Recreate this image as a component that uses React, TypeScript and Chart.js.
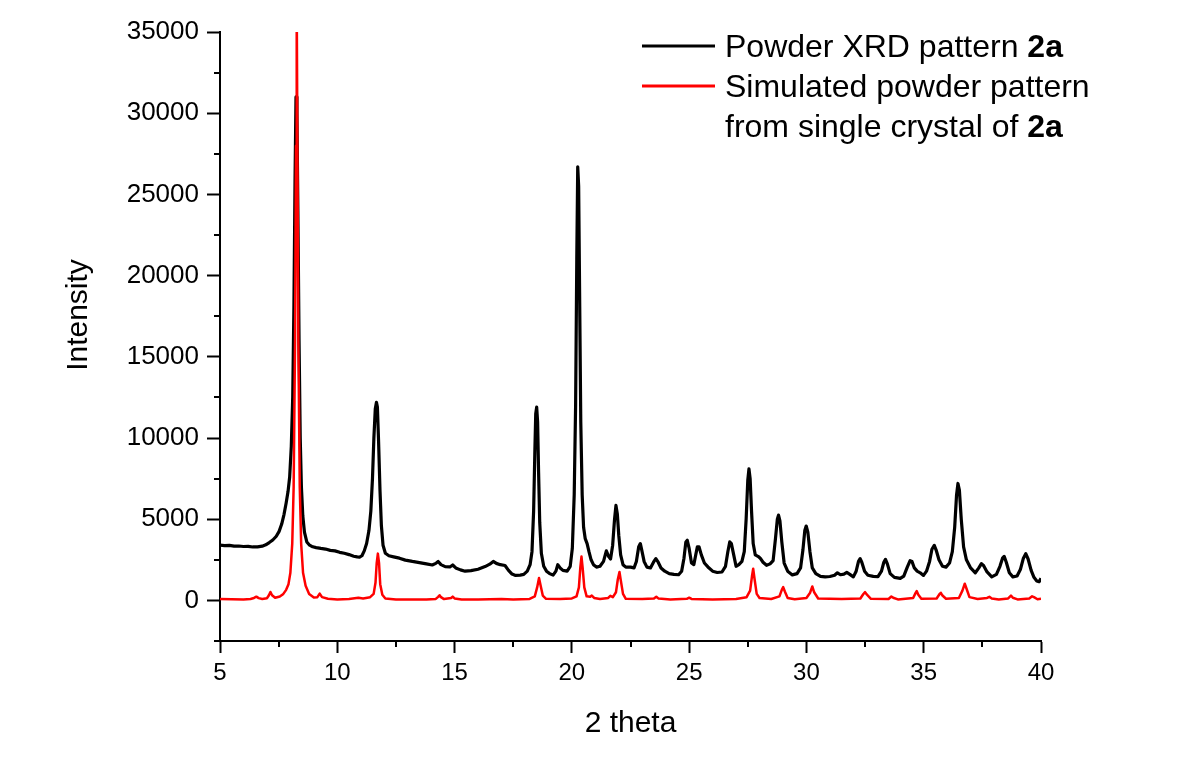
import React, { useEffect, useRef } from "react";
import { Chart, registerables } from "chart.js";

Chart.register(...registerables);

const FONT = '"Liberation Sans", Arial, Helvetica, sans-serif';

// Measured powder XRD pattern of 2a: [2θ (deg), intensity (counts)]
const powderPattern: [number, number][] = [
  [5.0, 3400], [5.2, 3370], [5.4, 3390], [5.6, 3340], [5.8, 3350], [6.0, 3320], [6.2, 3330], [6.4, 3290],
  [6.6, 3300], [6.8, 3340], [6.95, 3420], [7.1, 3560], [7.25, 3720], [7.4, 3950], [7.52, 4250], [7.63, 4700],
  [7.73, 5300], [7.82, 6000], [7.9, 6700], [7.97, 7600], [8.04, 9500], [8.1, 12500], [8.15, 18000],
  [8.2, 26000], [8.24, 31000], [8.28, 30000], [8.32, 24000], [8.37, 16000], [8.42, 10000], [8.47, 7000],
  [8.53, 5200], [8.6, 4200], [8.7, 3600], [8.82, 3400], [8.95, 3300], [9.1, 3250], [9.3, 3200], [9.5, 3160],
  [9.7, 3080], [9.9, 3050], [10.1, 2960], [10.3, 2900], [10.5, 2820], [10.7, 2720], [10.85, 2680],
  [10.95, 2660], [11.05, 2750], [11.15, 3050], [11.25, 3500], [11.35, 4300], [11.43, 5500], [11.5, 7500],
  [11.56, 10000], [11.62, 11800], [11.67, 12200], [11.71, 11900], [11.76, 9800], [11.82, 6800], [11.88, 4600],
  [11.95, 3400], [12.05, 2900], [12.2, 2750], [12.4, 2680], [12.65, 2600], [12.9, 2480], [13.2, 2400],
  [13.5, 2330], [13.8, 2250], [14.05, 2180], [14.2, 2280], [14.3, 2400], [14.42, 2200], [14.6, 2080],
  [14.8, 2060], [14.92, 2180], [15.05, 2000], [15.25, 1880], [15.45, 1800], [15.7, 1830], [16.0, 1920],
  [16.3, 2080], [16.5, 2230], [16.65, 2400], [16.78, 2280], [16.95, 2200], [17.15, 2150], [17.3, 1850],
  [17.45, 1620], [17.6, 1540], [17.8, 1560], [17.95, 1600], [18.1, 1800], [18.22, 2200], [18.3, 3000],
  [18.37, 5500], [18.42, 9000], [18.46, 11500], [18.5, 11900], [18.54, 11000], [18.58, 8000], [18.63, 4800],
  [18.7, 2900], [18.8, 2100], [18.92, 1800], [19.05, 1650], [19.2, 1560], [19.32, 1800], [19.4, 2200],
  [19.5, 2000], [19.62, 1850], [19.8, 1800], [19.93, 2100], [20.02, 3200], [20.1, 6500], [20.16, 12000],
  [20.21, 21000], [20.25, 26700], [20.29, 25500], [20.33, 19000], [20.38, 11000], [20.44, 6500], [20.5, 4500],
  [20.57, 3800], [20.65, 3500], [20.73, 3000], [20.82, 2500], [20.92, 2200], [21.05, 2050], [21.2, 2100],
  [21.35, 2400], [21.47, 3050], [21.57, 2700], [21.65, 2550], [21.74, 3400], [21.82, 5000], [21.88, 5850],
  [21.94, 5300], [22.0, 4000], [22.08, 2800], [22.18, 2200], [22.3, 2050], [22.5, 2050], [22.65, 2000],
  [22.75, 2400], [22.85, 3300], [22.92, 3500], [22.98, 3100], [23.08, 2400], [23.2, 2050], [23.35, 2000],
  [23.48, 2350], [23.58, 2570], [23.68, 2350], [23.8, 2000], [23.96, 1800], [24.15, 1650], [24.35, 1600],
  [24.55, 1580], [24.68, 1800], [24.78, 2600], [24.86, 3600], [24.92, 3700], [25.0, 3200], [25.1, 2300],
  [25.2, 2200], [25.28, 2800], [25.35, 3300], [25.42, 3300], [25.52, 2800], [25.65, 2300], [25.8, 2060],
  [26.0, 1800], [26.2, 1720], [26.4, 1750], [26.55, 2100], [26.65, 3000], [26.73, 3600], [26.8, 3500],
  [26.9, 2800], [27.0, 2100], [27.12, 2200], [27.25, 2400], [27.35, 3000], [27.43, 5000], [27.5, 7400],
  [27.55, 8100], [27.6, 7500], [27.66, 5500], [27.73, 3500], [27.82, 2800], [27.95, 2700], [28.03, 2600],
  [28.15, 2350], [28.3, 2160], [28.45, 2250], [28.58, 2450], [28.68, 3800], [28.76, 5000], [28.81, 5250],
  [28.87, 4900], [28.95, 3600], [29.05, 2300], [29.2, 1800], [29.4, 1570], [29.6, 1650], [29.75, 2000],
  [29.85, 3100], [29.93, 4300], [29.99, 4580], [30.06, 4200], [30.15, 3000], [30.25, 2000], [30.4, 1650],
  [30.6, 1480], [30.8, 1450], [31.0, 1470], [31.2, 1550], [31.32, 1700], [31.45, 1580], [31.6, 1620],
  [31.72, 1720], [31.85, 1600], [32.0, 1450], [32.12, 1800], [32.22, 2400], [32.29, 2570], [32.36, 2350],
  [32.48, 1800], [32.62, 1550], [32.85, 1480], [33.05, 1460], [33.2, 1800], [33.3, 2350], [33.37, 2530],
  [33.45, 2250], [33.57, 1650], [33.75, 1420], [34.0, 1360], [34.15, 1500], [34.3, 2050], [34.42, 2450],
  [34.5, 2400], [34.6, 2000], [34.72, 1800], [34.85, 1700], [34.99, 1540], [35.12, 1800], [35.25, 2400],
  [35.35, 3150], [35.45, 3390], [35.53, 3100], [35.65, 2500], [35.8, 2100], [35.95, 2050], [36.1, 2300],
  [36.22, 3000], [36.32, 4500], [36.4, 6500], [36.46, 7200], [36.52, 6800], [36.6, 5000], [36.7, 3300],
  [36.82, 2500], [37.0, 2000], [37.2, 1700], [37.35, 2000], [37.46, 2260], [37.55, 2150], [37.7, 1750],
  [37.9, 1450], [38.1, 1600], [38.25, 2100], [38.36, 2600], [38.43, 2710], [38.52, 2350], [38.65, 1700],
  [38.8, 1450], [38.98, 1500], [39.12, 1900], [39.25, 2600], [39.35, 2880], [39.45, 2550], [39.58, 1850],
  [39.7, 1420], [39.82, 1200], [39.92, 1150], [40.0, 1360],
];

// Pattern simulated from the single-crystal structure of 2a: [2θ (deg), intensity]
const simulatedPattern: [number, number][] = [
  [5.0, 80], [5.5, 70], [6.0, 60], [6.3, 90], [6.45, 150], [6.55, 230], [6.65, 140], [6.8, 90], [7.0, 130],
  [7.08, 300], [7.15, 520], [7.22, 320], [7.35, 160], [7.55, 240], [7.7, 400], [7.82, 650], [7.92, 1000],
  [8.0, 1700], [8.08, 3500], [8.14, 7000], [8.2, 16000], [8.24, 28000], [8.27, 37000], [8.3, 28000],
  [8.34, 16000], [8.4, 7000], [8.46, 3500], [8.54, 1700], [8.65, 900], [8.8, 400], [9.0, 180], [9.15, 200],
  [9.25, 420], [9.35, 200], [9.6, 100], [10.0, 60], [10.5, 80], [10.9, 160], [11.1, 120], [11.4, 200],
  [11.55, 400], [11.63, 1100], [11.68, 2300], [11.73, 2880], [11.78, 2300], [11.83, 1000], [11.92, 350],
  [12.05, 120], [12.5, 60], [13.0, 50], [13.8, 60], [14.2, 90], [14.3, 220], [14.36, 320], [14.42, 200],
  [14.55, 80], [14.85, 150], [14.92, 230], [15.0, 120], [15.3, 60], [16.0, 60], [16.5, 70], [17.0, 80],
  [17.5, 60], [18.2, 90], [18.42, 250], [18.52, 800], [18.6, 1380], [18.67, 900], [18.76, 300], [18.9, 100],
  [19.5, 80], [20.0, 120], [20.2, 250], [20.3, 800], [20.36, 2000], [20.41, 2700], [20.46, 2000], [20.53, 800],
  [20.63, 250], [20.78, 220], [20.85, 300], [20.95, 150], [21.2, 80], [21.55, 150], [21.64, 280], [21.75, 200],
  [21.88, 500], [21.96, 1300], [22.03, 1750], [22.09, 1200], [22.18, 400], [22.3, 100], [23.0, 80],
  [23.5, 120], [23.6, 230], [23.7, 110], [24.2, 60], [24.9, 100], [25.0, 170], [25.1, 90], [26.0, 60],
  [27.0, 90], [27.45, 200], [27.6, 600], [27.68, 1500], [27.73, 1950], [27.79, 1300], [27.88, 400],
  [28.0, 150], [28.5, 90], [28.85, 250], [28.95, 650], [29.01, 820], [29.08, 550], [29.2, 150], [29.5, 70],
  [30.0, 150], [30.15, 450], [30.25, 860], [30.33, 500], [30.5, 120], [31.5, 80], [32.3, 120], [32.42, 380],
  [32.5, 510], [32.58, 350], [32.75, 100], [33.5, 90], [33.62, 240], [33.7, 160], [33.9, 60], [34.55, 150],
  [34.65, 450], [34.7, 570], [34.77, 350], [34.9, 100], [35.55, 120], [35.67, 380], [35.73, 470], [35.8, 300],
  [35.95, 100], [36.5, 150], [36.65, 600], [36.75, 1030], [36.83, 700], [36.95, 200], [37.3, 90], [37.7, 150],
  [37.8, 220], [37.9, 120], [38.2, 50], [38.6, 120], [38.72, 300], [38.8, 160], [39.0, 60], [39.5, 120],
  [39.62, 250], [39.7, 200], [39.85, 70], [40.0, 100],
];

// Axis ticks
const xMajorTicks = [5, 10, 15, 20, 25, 30, 35, 40];
const xMinorTicks = [7.5, 12.5, 17.5, 22.5, 27.5, 32.5, 37.5];
const yMajorTicks = [0, 5000, 10000, 15000, 20000, 25000, 30000, 35000];
const yMinorTicks = [-2500, 2500, 7500, 12500, 17500, 22500, 27500, 32500];

const xAxisTitle = "2 theta";
const yAxisTitle = "Intensity";

// Legend entries: each entry has one or more rows, each row a list of [text, bold] runs
const legendColors = ["#000000", "#ff0000"];
const legendRows: [string, boolean][][][] = [
  [[["Powder XRD pattern ", false], ["2a", true]]],
  [
    [["Simulated powder pattern", false]],
    [["from single crystal of ", false], ["2a", true]],
  ],
];

const toPoints = (pairs: [number, number][]) => pairs.map(([x, y]) => ({ x, y }));

const overlayPlugin = {
  id: "xrdOverlay",
  afterDraw(chart: any) {
    const { ctx, chartArea, scales } = chart;
    const xs = scales.x;
    const ys = scales.y;
    ctx.save();
    // minor ticks
    ctx.strokeStyle = "#000";
    ctx.lineWidth = 2;
    ctx.beginPath();
    yMinorTicks.forEach((v) => {
      const py = Math.round(ys.getPixelForValue(v));
      ctx.moveTo(chartArea.left - 6, py);
      ctx.lineTo(chartArea.left, py);
    });
    xMinorTicks.forEach((v) => {
      const px = Math.round(xs.getPixelForValue(v));
      ctx.moveTo(px, chartArea.bottom);
      ctx.lineTo(px, chartArea.bottom + 6);
    });
    ctx.stroke();

    // axis titles
    ctx.fillStyle = "#000";
    ctx.font = `30px ${FONT}`;
    ctx.textAlign = "center";
    ctx.textBaseline = "alphabetic";
    ctx.fillText(xAxisTitle, (chartArea.left + chartArea.right) / 2, 732);
    ctx.save();
    ctx.translate(87, 315);
    ctx.rotate(-Math.PI / 2);
    ctx.fillText(yAxisTitle, 0, 0);
    ctx.restore();

    // legend
    const lineX0 = 642;
    const lineX1 = 715;
    const textX = 725;
    let baseline = 57;
    ctx.textAlign = "left";
    legendRows.forEach((entry, i) => {
      ctx.strokeStyle = legendColors[i];
      ctx.lineWidth = 3;
      ctx.beginPath();
      ctx.moveTo(lineX0, baseline - 11);
      ctx.lineTo(lineX1, baseline - 11);
      ctx.stroke();
      entry.forEach((row) => {
        let x = textX;
        row.forEach(([text, bold]) => {
          ctx.font = `${bold ? "bold " : ""}32px ${FONT}`;
          ctx.fillText(text, x, baseline);
          x += ctx.measureText(text).width;
        });
        baseline += 40;
      });
    });
    ctx.restore();
  },
};

export default function App() {
  const canvasRef = useRef<HTMLCanvasElement | null>(null);

  useEffect(() => {
    document.body.style.margin = "0";
    const canvas = canvasRef.current;
    if (!canvas) return;
    const chart = new Chart(canvas, {
      type: "line",
      data: {
        datasets: [
          {
            label: "Powder XRD pattern 2a",
            data: toPoints(powderPattern),
            borderColor: "#000000",
            borderWidth: 3.2,
            pointRadius: 0,
            tension: 0,
            borderJoinStyle: "round",
            order: 1,
          },
          {
            label: "Simulated powder pattern from single crystal of 2a",
            data: toPoints(simulatedPattern),
            borderColor: "#ff0000",
            borderWidth: 2.5,
            pointRadius: 0,
            tension: 0,
            borderJoinStyle: "round",
            order: 0,
          },
        ],
      },
      options: {
        responsive: false,
        animation: false,
        events: [],
        layout: { padding: { left: 0, top: 32, right: 154, bottom: 0 } },
        plugins: { legend: { display: false }, tooltip: { enabled: false } },
        scales: {
          x: {
            type: "linear",
            min: 5,
            max: 40,
            afterBuildTicks: (scale: any) => {
              scale.ticks = xMajorTicks.map((value) => ({ value }));
            },
            afterFit: (scale: any) => {
              scale.height = 131;
            },
            grid: {
              display: true,
              drawOnChartArea: false,
              drawTicks: true,
              tickLength: 12,
              tickColor: "#000",
              tickWidth: 2,
            },
            border: { display: true, color: "#000", width: 2 },
            ticks: {
              color: "#000",
              font: { family: FONT, size: 24 },
              padding: 6,
              maxRotation: 0,
              autoSkip: false,
            },
          },
          y: {
            type: "linear",
            min: -2500,
            max: 35000,
            afterBuildTicks: (scale: any) => {
              scale.ticks = yMajorTicks.map((value) => ({ value }));
            },
            afterFit: (scale: any) => {
              scale.width = 220;
            },
            grid: {
              display: true,
              drawOnChartArea: false,
              drawTicks: true,
              tickLength: 13,
              tickColor: "#000",
              tickWidth: 2,
            },
            border: { display: true, color: "#000", width: 2 },
            ticks: {
              color: "#000",
              font: { family: FONT, size: 26 },
              padding: 8,
              autoSkip: false,
              callback: (v: any) => String(v),
            },
          },
        },
      },
      plugins: [overlayPlugin],
    } as any);
    return () => chart.destroy();
  }, []);

  return (
    <div style={{ width: 1195, height: 772, background: "#fff" }}>
      <canvas ref={canvasRef} width={1195} height={772} style={{ display: "block" }} />
    </div>
  );
}
